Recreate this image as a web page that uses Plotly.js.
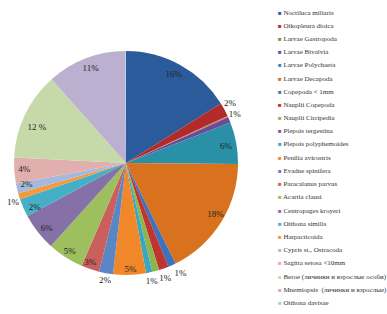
<!DOCTYPE html>
<html>
<head>
<meta charset="utf-8">
<script src="https://cdn.plot.ly/plotly-3.0.1.min.js"></script>
<style>html,body{margin:0;padding:0;background:#fff;}#chart{width:387px;height:314px;}</style>
</head>
<body>
<div id="chart"></div>
<script>
var categories = ["Noctiluca miliaris","Oikopleura dioica","Larvae Gastropoda","Larvae Bivalvia","Larvae Polychaeta","Larvae Decapoda","Copepoda < 1mm","Nauplii Copepoda","Nauplii Cirripedia","Plepois tergestina","Plepois polyphemoides","Penilia avirostris","Evadne spinifera","Paracalanus parvus","Acartia clausi","Centropages kroyeri","Oithona similis","Harpacticoida","Cypris st., Ostracoda","Sagitta setosa <10mm","Beroe (личинки и взрослые особи)","Mnemiopsis  (личинки и взрослые)","Oithona davisae"];
var values = [16, 2, 0.2, 0.8, 6, 17.5, 1.1, 1.4, 1, 0, 0.9, 4.7, 2, 2.6, 5.2, 5.4, 2.6, 0.9, 1.4, 3.7, 12.6, 11.4, 0.1];
var sliceLabels = ["16%","2%","","1%","6%","18%","1%","1%","","","1%","5%","2%","3%","5%","6%","2%","1%","2%","4%","12 %","11%",""];
var colors = ["#2B5B9B","#B32A2A","#C08A50","#6B4A9A","#2A90A8","#D9721E","#3D72BC","#C0332F","#8DB54E","#7A5AA8","#3AA6C2","#F0882A","#5A86C5","#CB5F5C","#9DBF5E","#8670A8","#45AFC8","#F5993F","#A5B9DD","#E2AFAF","#C6D9A8","#BBB0D0","#9CD0E0"];
var legendColors = ["#2B5B9B","#B32A2A","#6E9A3A","#6B4A9A","#2A90A8","#D9721E","#3D72BC","#C0332F","#8DB54E","#7A5AA8","#3AA6C2","#F0882A","#5A86C5","#CB5F5C","#9DBF5E","#8670A8","#45AFC8","#F5993F","#A5B9DD","#E2AFAF","#C6D9A8","#BBB0D0","#9CD0E0"];

var W = 387, H = 314;
var cx = 126, cy = 163, r = 112, rInner = 93;
var serif = "Liberation Serif, Times New Roman, serif";

// label layers: which slice labels, at which radius, and a small nudge (px) so they sit like Excel's best-fit labels
var layers = [
  {idx: [1, 3], rad: r, dx: -3, dy: -5},
  {idx: [17], rad: r, dx: 3, dy: 5},
  {idx: [6], rad: r, dx: 0, dy: 4},
  {idx: [7], rad: r, dx: -7, dy: 5},
  {idx: [10], rad: r, dx: -6, dy: 4},
  {idx: [12], rad: r, dx: 8, dy: 2},
  {idx: [4, 5, 18, 19], rad: rInner, dx: 0, dy: 0},
  {idx: [13, 14, 15, 16], rad: rInner, dx: 3, dy: 6},
  {idx: [11], rad: rInner, dx: -7, dy: 8},
  {idx: [0], rad: rInner, dx: -8, dy: -4},
  {idx: [21], rad: rInner, dx: 9, dy: -4},
  {idx: [20], rad: rInner, dx: 7, dy: 5}
];

function domainFor(rad, dx, dy) {
  var x0 = cx + dx, y0 = H - (cy + dy);
  return {x: [(x0 - rad) / W, (x0 + rad) / W], y: [(y0 - rad) / H, (y0 + rad) / H]};
}

function pieTrace(opts) {
  return {
    type: "pie",
    labels: categories,
    values: values,
    text: sliceLabels,
    texttemplate: "%{text}",
    textposition: opts.pos,
    sort: false,
    direction: "clockwise",
    rotation: 0,
    marker: {colors: opts.colors, line: {width: 0}},
    outsidetextfont: {family: serif, size: 9, color: "#222"},
    textfont: {family: serif, size: 9, color: "#222"},
    hoverinfo: "none",
    showlegend: false,
    automargin: false,
    domain: opts.domain
  };
}

var clear = categories.map(function(){ return "rgba(0,0,0,0)"; });
var traces = [pieTrace({pos: "none", colors: colors, domain: domainFor(r, 0, 0)})];
layers.forEach(function(L){
  var pos = categories.map(function(c, i){
    return (L.idx.indexOf(i) >= 0 && sliceLabels[i] !== "") ? "outside" : "none";
  });
  traces.push(pieTrace({pos: pos, colors: clear, domain: domainFor(L.rad, L.dx, L.dy)}));
});

var annotations = categories.map(function(name, i){
  var yPix = 12.5 + i * 13.2;
  return {
    xref: "paper", yref: "paper",
    x: 276 / W, y: 1 - yPix / H,
    xanchor: "left", yanchor: "middle",
    showarrow: false,
    align: "left",
    text: '<span style="color:' + legendColors[i] + ';font-size:6px">■</span> ' + name,
    font: {family: serif, size: 7, color: "#333"}
  };
});

var layout = {
  width: W, height: H,
  margin: {l: 0, r: 0, t: 0, b: 0},
  paper_bgcolor: "#fff",
  showlegend: false,
  annotations: annotations
};

Plotly.newPlot("chart", traces, layout, {staticPlot: true, displayModeBar: false});
</script>
</body>
</html>
